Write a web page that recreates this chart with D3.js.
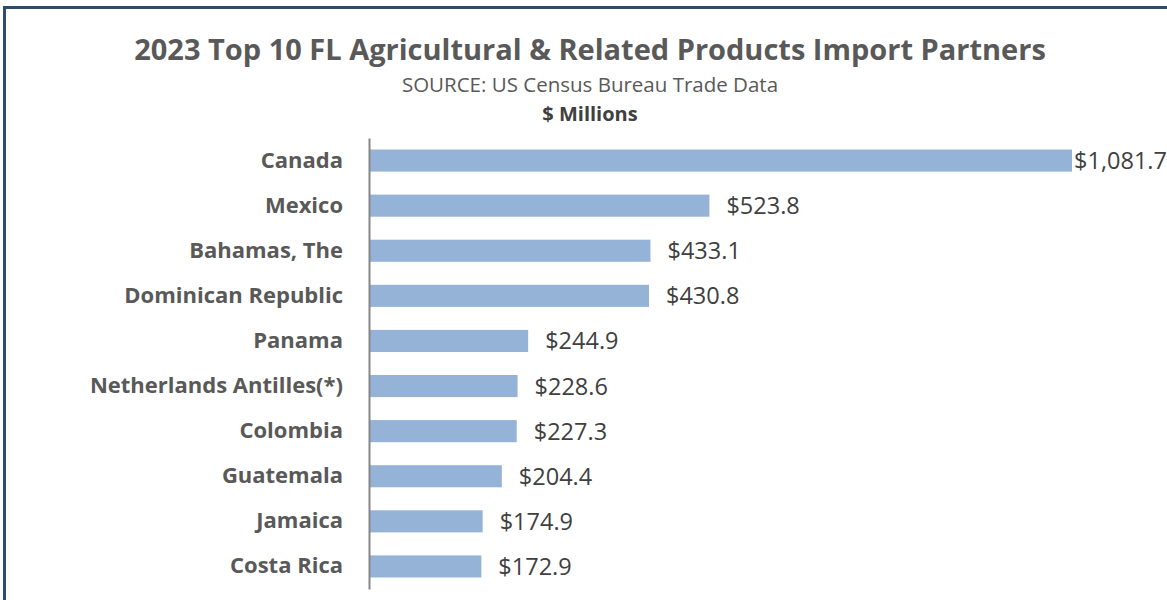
<!DOCTYPE html>
<html>
<head>
<meta charset="utf-8">
<script src="https://cdn.jsdelivr.net/npm/d3@7"></script>
<style>
  body { margin: 0; background: #fff; }
  svg text { font-family: "Open Sans", sans-serif; }
</style>
</head>
<body>
<div id="chart"></div>
<script>
// Data ($ Millions)
var countries = ["Canada", "Mexico", "Bahamas, The", "Dominican Republic", "Panama",
    "Netherlands Antilles(*)", "Colombia", "Guatemala", "Jamaica", "Costa Rica"];
var values = [1081.7, 523.8, 433.1, 430.8, 244.9, 228.6, 227.3, 204.4, 174.9, 172.9];

var width = 1167;
var height = 600;
var margin = ({ top: 138, right: 95, bottom: 11, left: 369 });

var data = countries.map((c, i) => ({ name: c, value: values[i] }));

const svg = d3.select("#chart")
    .append("svg")
    .attr("width", width)
    .attr("height", height);

// Frame border (only top and left visible in the picture)
svg.append("rect")
    .attr("x", 4.5)
    .attr("y", 7.5)
    .attr("width", width + 20)
    .attr("height", height + 20)
    .attr("fill", "none")
    .attr("stroke", "#2f4b6e")
    .attr("stroke-width", 3);

// Titles
svg.append("text")
    .attr("x", 590)
    .attr("y", 60)
    .attr("text-anchor", "middle")
    .style("font-size", "29px")
    .style("font-weight", "bold")
    .style("fill", "#595959")
    .text("2023 Top 10 FL Agricultural & Related Products Import Partners");
svg.append("text")
    .attr("x", 590)
    .attr("y", 92)
    .attr("text-anchor", "middle")
    .style("font-size", "20.5px")
    .style("fill", "#595959")
    .text("SOURCE: US Census Bureau Trade Data");
svg.append("text")
    .attr("x", 590)
    .attr("y", 121)
    .attr("text-anchor", "middle")
    .style("font-size", "20px")
    .style("font-weight", "bold")
    .style("fill", "#404040")
    .text("$ Millions");

// Scales
var x = d3.scaleLinear()
    .domain([0, 1081.7])
    .range([margin.left, 1072]);
var y = d3.scaleBand()
    .domain(countries)
    .range([margin.top, height - margin.bottom])
    .paddingInner(0.51)
    .paddingOuter(0.255);

// Bars
svg.append("g")
    .selectAll("rect")
    .data(data)
    .join("rect")
      .attr("fill", "#95b3d7")
      .attr("x", x(0))
      .attr("y", d => y(d.name))
      .attr("height", y.bandwidth())
      .attr("width", d => x(d.value) - x(0));

// Category axis
var yAxis = g => g
    .attr("transform", `translate(${margin.left},0)`)
    .call(d3.axisLeft(y).tickSize(0).tickPadding(26))
    .call(g => g.select(".domain").attr("stroke", "#868686").attr("stroke-width", 2))
    .call(g => g.selectAll(".tick text")
        .style("font-family", "'Open Sans', sans-serif")
        .style("font-size", "22px")
        .style("font-weight", "bold")
        .style("fill", "#595959"));
svg.append("g").call(yAxis);

// Value labels, pulled back inside the frame when they would run off the edge
var fmt = d3.format("$,.1f");
svg.append("g")
    .selectAll("text")
    .data(data)
    .join("text")
      .attr("y", d => y(d.name) + y.bandwidth() / 2)
      .attr("dy", "0.36em")
      .style("font-size", "23.5px")
      .style("fill", "#404040")
      .text(d => fmt(d.value))
      .attr("x", function (d) {
          var w = this.getComputedTextLength();
          return Math.min(x(d.value) + 17, width - w);
      });
</script>
</body>
</html>
